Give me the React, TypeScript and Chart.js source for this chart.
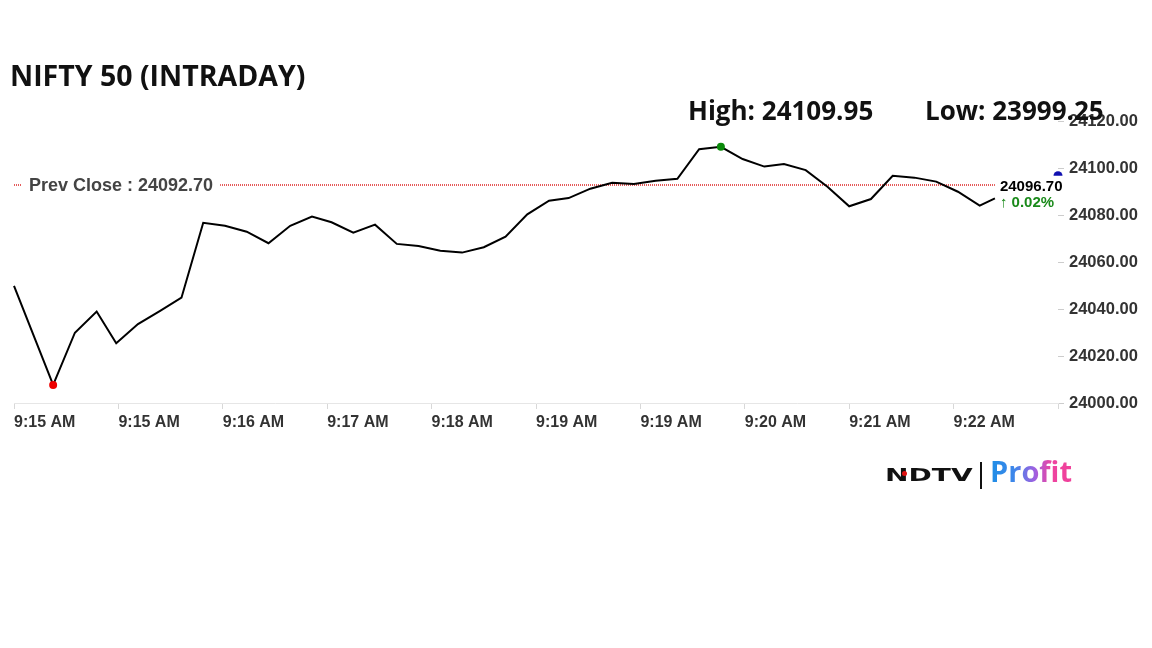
import React, { useEffect, useRef } from 'react';
import { Chart, registerables } from 'chart.js';

Chart.register(...registerables);

const chartTitle = 'NIFTY 50 (INTRADAY)';
const highLabel = 'High: 24109.95';
const lowLabel = 'Low: 23999.25';
const prevClose = 24092.7;
const currentValue = 24096.7;
const changeText = '\u2191 0.02%';

// x tick labels (one every 48 seconds from 9:15:00)
const xTickLabels = ['9:15 AM', '9:15 AM', '9:16 AM', '9:17 AM', '9:18 AM', '9:19 AM', '9:19 AM', '9:20 AM', '9:21 AM', '9:22 AM'];

// seconds after 9:15:00 for every quote
const secondsSinceOpen = [0, 18, 28, 38, 47, 57, 67, 77, 87, 97, 107, 117, 127, 137, 146, 156, 166, 176, 186, 196, 206, 216, 226, 236, 246, 255, 265, 275, 285, 295, 305, 315, 325, 335, 345, 354, 364, 374, 384, 394, 404, 414, 424, 434, 444, 451];

const prices = [24049.8, 24007.7, 24029.9, 24038.9, 24025.4, 24033.6, 24039.1, 24044.8, 24076.7, 24075.4, 24072.9, 24068.0, 24075.4, 24079.3, 24076.9, 24072.5, 24075.9, 24067.7, 24066.8, 24064.8, 24064.0, 24066.3, 24070.8, 24080.3, 24086.1, 24087.2, 24091.2, 24093.7, 24093.2, 24094.6, 24095.4, 24108.0, 24109.0, 24103.8, 24100.6, 24101.7, 24099.1, 24092.0, 24083.7, 24086.8, 24096.7, 24095.9, 24094.2, 24089.9, 24084.0, 24087.1];

const xMin = 0;
const xMax = 480;
const xStep = 48;
const yMin = 24000;
const yMax = 24120;
const yStep = 20;

export default function App() {
  const canvasRef = useRef<HTMLCanvasElement | null>(null);

  useEffect(() => {
    if (!canvasRef.current) return;
    let minIdx = 0;
    let maxIdx = 0;
    prices.forEach((p, i) => {
      if (p < prices[minIdx]) minIdx = i;
      if (p > prices[maxIdx]) maxIdx = i;
    });
    const lastSec = secondsSinceOpen[secondsSinceOpen.length - 1];

    const overlay = {
      id: 'overlay',
      beforeDatasetsDraw(chart: any) {
        const { ctx, scales } = chart;
        const x0 = scales.x.getPixelForValue(secondsSinceOpen[0]);
        const x1 = scales.x.getPixelForValue(lastSec);
        const y = Math.round(scales.y.getPixelForValue(prevClose));
        ctx.save();
        ctx.strokeStyle = '#e45a5a';
        ctx.lineWidth = 2;
        ctx.setLineDash([1, 1]);
        ctx.beginPath();
        ctx.moveTo(Math.round(x0), y);
        ctx.lineTo(x1, y);
        ctx.stroke();
        ctx.restore();
      },
      afterDatasetsDraw(chart: any) {
        const { ctx, scales } = chart;
        const yPc = scales.y.getPixelForValue(prevClose);
        ctx.save();
        // prev close label
        ctx.font = "bold 18px 'Liberation Sans', Arial, sans-serif";
        const txt = 'Prev Close : ' + prevClose.toFixed(2);
        const w = ctx.measureText(txt).width;
        ctx.fillStyle = '#ffffff';
        ctx.fillRect(22, yPc - 10, w + 14, 20);
        ctx.fillStyle = '#444444';
        ctx.textBaseline = 'middle';
        ctx.textAlign = 'left';
        ctx.fillText(txt, 29, yPc + 1);

        // current value label
        const xl = scales.x.getPixelForValue(lastSec) + 5;
        ctx.font = "bold 15px 'Liberation Sans', Arial, sans-serif";
        ctx.fillStyle = '#000000';
        ctx.fillText(currentValue.toFixed(2), xl, yPc + 2);
        ctx.fillStyle = '#1a8a1a';
        ctx.fillText(changeText, xl, yPc + 18);

        // current marker (half dot at right edge)
        const bx = scales.x.getPixelForValue(xMax);
        const by = scales.y.getPixelForValue(currentValue);
        ctx.fillStyle = '#1010b0';
        ctx.beginPath();
        ctx.arc(bx, by, 4.5, Math.PI, 2 * Math.PI);
        ctx.closePath();
        ctx.fill();
        ctx.restore();
      },
    };

    const chart = new Chart(canvasRef.current, {
      type: 'line',
      data: {
        datasets: [
          {
            data: secondsSinceOpen.map((s, i) => ({ x: s, y: prices[i] })),
            borderColor: '#000000',
            borderWidth: 2,
            tension: 0,
            fill: false,
            clip: false as any,
            pointRadius: (ctx: any) => (ctx.dataIndex === minIdx || ctx.dataIndex === maxIdx ? 4 : 0),
            pointHoverRadius: 0,
            pointBorderWidth: 0,
            pointBackgroundColor: (ctx: any) => (ctx.dataIndex === minIdx ? '#ee0000' : '#0a8a0a'),
          },
        ],
      },
      options: {
        responsive: false,
        animation: false,
        layout: { padding: { left: 14, top: 121, right: 0, bottom: 205 } },
        plugins: { legend: { display: false }, tooltip: { enabled: false } },
        scales: {
          x: {
            type: 'linear',
            min: xMin,
            max: xMax,
            afterFit: (s: any) => {
              s.height = 40;
            },
            ticks: {
              stepSize: xStep,
              align: 'start',
              autoSkip: false,
              maxRotation: 0,
              padding: 4,
              color: '#333333',
              font: { family: "'Liberation Sans', Arial, sans-serif", size: 16, weight: 'bold' },
              callback: (v: any) => {
                const i = Math.round(Number(v) / xStep);
                return xTickLabels[i] ?? '';
              },
            },
            grid: { drawOnChartArea: false, tickLength: 6, color: '#d8d8d8' },
            border: { color: '#e6e6e6' },
          },
          y: {
            position: 'right',
            min: yMin,
            max: yMax,
            afterFit: (s: any) => {
              s.width = 94;
            },
            ticks: {
              stepSize: yStep,
              padding: 5,
              color: '#333333',
              font: { family: "'Liberation Sans', Arial, sans-serif", size: 16.5, weight: 'bold' },
              callback: (v: any) => Number(v).toFixed(2),
            },
            grid: { drawOnChartArea: false, tickLength: 6, color: '#cccccc' },
            border: { display: false },
          },
        },
      } as any,
      plugins: [overlay],
    });
    return () => chart.destroy();
  }, []);

  const openSans = "'Open Sans', 'Noto Sans', sans-serif";

  return (
    <div style={{ position: 'absolute', left: 0, top: 0, width: 1152, height: 648, background: '#fff', overflow: 'hidden' }}>
      <canvas ref={canvasRef} width={1152} height={648} style={{ position: 'absolute', left: 0, top: 0 }} />
      <div style={{ position: 'absolute', left: 10, top: 61, fontFamily: openSans, fontWeight: 700, fontSize: 28.5, lineHeight: 1, color: '#111', whiteSpace: 'nowrap' }}>
        {chartTitle}
      </div>
      <div style={{ position: 'absolute', left: 688, top: 97, fontFamily: openSans, fontWeight: 700, fontSize: 26, lineHeight: 1, color: '#111', whiteSpace: 'nowrap' }}>
        {highLabel}
      </div>
      <div style={{ position: 'absolute', left: 925, top: 97, fontFamily: openSans, fontWeight: 700, fontSize: 26, lineHeight: 1, color: '#111', whiteSpace: 'nowrap' }}>
        {lowLabel}
      </div>
      <div style={{ position: 'absolute', left: 885, top: 467, fontFamily: "'DejaVu Sans', sans-serif", fontWeight: 900, fontSize: 17, lineHeight: 1, color: '#111', whiteSpace: 'nowrap', transform: 'scaleX(1.65)', transformOrigin: 'left top' }}>
        NDTV
      </div>
      <div style={{ position: 'absolute', left: 902, top: 471, width: 5, height: 5, borderRadius: 3, background: '#e01010' }} />
      <div style={{ position: 'absolute', left: 980, top: 462, width: 2, height: 27, background: '#111' }} />
      <div
        style={{
          position: 'absolute',
          left: 990,
          top: 456,
          fontFamily: openSans,
          fontWeight: 700,
          fontSize: 29,
          lineHeight: 1,
          whiteSpace: 'nowrap',
          background: 'linear-gradient(90deg, #1e8ee6 0%, #3f86ea 30%, #a060e0 55%, #ee44a0 75%, #f0409a 100%)',
          WebkitBackgroundClip: 'text',
          backgroundClip: 'text',
          color: 'transparent',
          WebkitTextFillColor: 'transparent',
        }}
      >
        Profit
      </div>
    </div>
  );
}
